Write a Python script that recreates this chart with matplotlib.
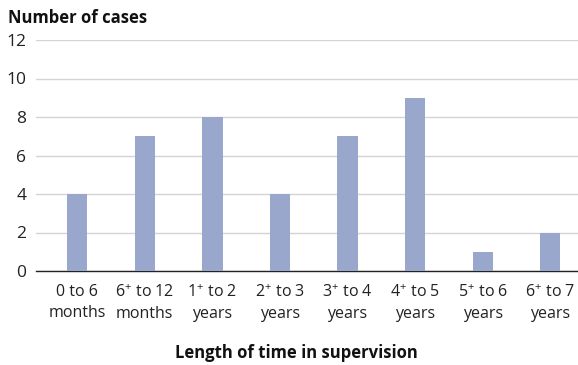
import matplotlib.pyplot as plt

plt.rcParams['font.family'] = ['Open Sans', 'DejaVu Sans']
plt.rcParams['mathtext.fontset'] = 'custom'
plt.rcParams['mathtext.rm'] = 'Open Sans'
plt.rcParams['mathtext.it'] = 'Open Sans'

categories = ["0 to 6\nmonths", "6$^{+}$ to 12\nmonths", "1$^{+}$ to 2\nyears",
              "2$^{+}$ to 3\nyears", "3$^{+}$ to 4\nyears", "4$^{+}$ to 5\nyears",
              "5$^{+}$ to 6\nyears", "6$^{+}$ to 7\nyears"]
cases = [4, 7, 8, 4, 7, 9, 1, 2]
yticks = [0, 2, 4, 6, 8, 10, 12]

fig = plt.figure(figsize=(5.78, 3.65), dpi=100)
ax = fig.add_axes([36 / 578, 1 - 271 / 365, 542 / 578, 231 / 365])

x = range(len(cases))
ax.bar(x, cases, width=0.3, color="#98A7CB", zorder=3)

ax.set_xlim(-0.61, 7.41)
ax.set_ylim(0, 12)
ax.set_yticks(yticks)
ax.yaxis.grid(True, color="#D4D4D4", linewidth=1)
ax.set_axisbelow(True)
for s in ["top", "right", "left"]:
    ax.spines[s].set_visible(False)
ax.spines["bottom"].set_color("#222222")
ax.spines["bottom"].set_linewidth(1)
ax.tick_params(axis="both", length=0, labelsize=11.5, colors="#222222")
ax.tick_params(axis="y", pad=7, labelsize=12.5)
ax.tick_params(axis="x", pad=9)
ax.set_xticks(list(x))
ax.set_xticklabels(categories, linespacing=1.45)

fig.text(8 / 578, 1 - 18 / 365, "Number of cases", fontsize=12, fontweight="bold",
         va="center", ha="left", color="#111111")
fig.text(296 / 578, 1 - 353 / 365, "Length of time in supervision", fontsize=12,
         fontweight="bold", va="center", ha="center", color="#111111")

fig.savefig("out.png", dpi=100)
